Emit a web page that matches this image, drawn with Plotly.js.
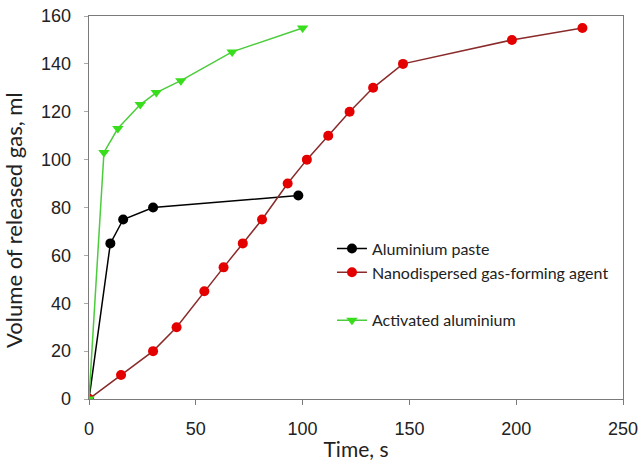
<!DOCTYPE html>
<html>
<head>
<meta charset="utf-8">
<script src="https://cdn.plot.ly/plotly-3.0.1.min.js"></script>
<style>html,body{margin:0;padding:0;background:#fff;}#chart{width:641px;height:463px;}</style>
</head>
<body>
<div id="chart"></div>
<script>
// Data
const pasteTime = [0, 10, 16, 30, 98];
const pasteVolume = [0, 65, 75, 80, 85];

const nanoTime = [0, 15, 30, 41, 54, 63, 72, 81, 93, 102, 112, 122, 133, 147, 198, 231];
const nanoVolume = [0, 10, 20, 30, 45, 55, 65, 75, 90, 100, 110, 120, 130, 140, 150, 155];

const activatedTime = [0, 7, 13.5, 24, 31.5, 43, 67, 100];
const activatedVolume = [0, 103, 113, 123, 128, 133, 145, 155];

const xTicks = [0, 50, 100, 150, 200, 250];
const yTicks = [0, 20, 40, 60, 80, 100, 120, 140, 160];

const seriesNames = ["Aluminium paste", "Nanodispersed gas-forming agent", "Activated aluminium"];
const xTitle = "Time, s";
const yTitle = "Volume of released gas, ml";

const titleFont = "Lato, 'Open Sans', sans-serif";

const traces = [
  {
    x: pasteTime, y: pasteVolume, name: seriesNames[0], type: "scatter", mode: "lines+markers",
    line: {color: "#000000", width: 1.5},
    marker: {color: "#000000", size: 10, symbol: "circle"},
    legendgroup: "a"
  },
  {
    x: nanoTime, y: nanoVolume, name: seriesNames[1], type: "scatter", mode: "lines+markers",
    line: {color: "#8a2a2a", width: 1.5},
    marker: {color: "#e50000", size: 10, symbol: "circle"},
    legendgroup: "a"
  },
  {
    x: activatedTime, y: activatedVolume, name: seriesNames[2], type: "scatter", mode: "lines+markers",
    line: {color: "#4ccc3c", width: 1.5},
    marker: {color: "#38dd1c", size: 10, symbol: "triangle-down"},
    legendgroup: "b"
  }
];

const layout = {
  width: 641, height: 463,
  margin: {l: 88.5, r: 18, t: 16, b: 64},
  paper_bgcolor: "#ffffff",
  plot_bgcolor: "#ffffff",
  showlegend: true,
  legend: {
    x: 0.455, xanchor: "left", y: 0.437, yanchor: "top",
    font: {family: titleFont, size: 16, color: "#222"},
    tracegroupgap: 24,
    bgcolor: "rgba(0,0,0,0)"
  },
  xaxis: {
    range: [0, 250], tickvals: xTicks, ticktext: xTicks.map(String),
    showgrid: false, zeroline: false,
    showline: true, linecolor: "#7a7a7a", linewidth: 1.3, mirror: true,
    ticks: "outside", ticklen: 5, tickcolor: "#7a7a7a",
    ticklabelstandoff: 8,
    tickfont: {family: "'Liberation Sans', Arial, sans-serif", size: 18, color: "#222"},
    title: {text: xTitle, font: {family: titleFont, size: 21, color: "#222"}, standoff: 4}
  },
  yaxis: {
    range: [0, 160], tickvals: yTicks, ticktext: yTicks.map(String),
    showgrid: false, zeroline: false,
    showline: true, linecolor: "#7a7a7a", linewidth: 1.3, mirror: true,
    ticks: "outside", ticklen: 4, tickcolor: "#aaaaaa",
    ticklabelstandoff: 9,
    tickfont: {family: "'Liberation Sans', Arial, sans-serif", size: 18, color: "#222"},
    title: {text: ""}
  },
  annotations: [
    {
      text: yTitle, xref: "paper", yref: "paper",
      x: -0.1413, y: 0.4665, xanchor: "center", yanchor: "middle",
      textangle: -90, showarrow: false,
      font: {family: titleFont, size: 22, color: "#222"}
    }
  ]
};

Plotly.newPlot("chart", traces, layout, {displayModeBar: false, staticPlot: true});
</script>
</body>
</html>
